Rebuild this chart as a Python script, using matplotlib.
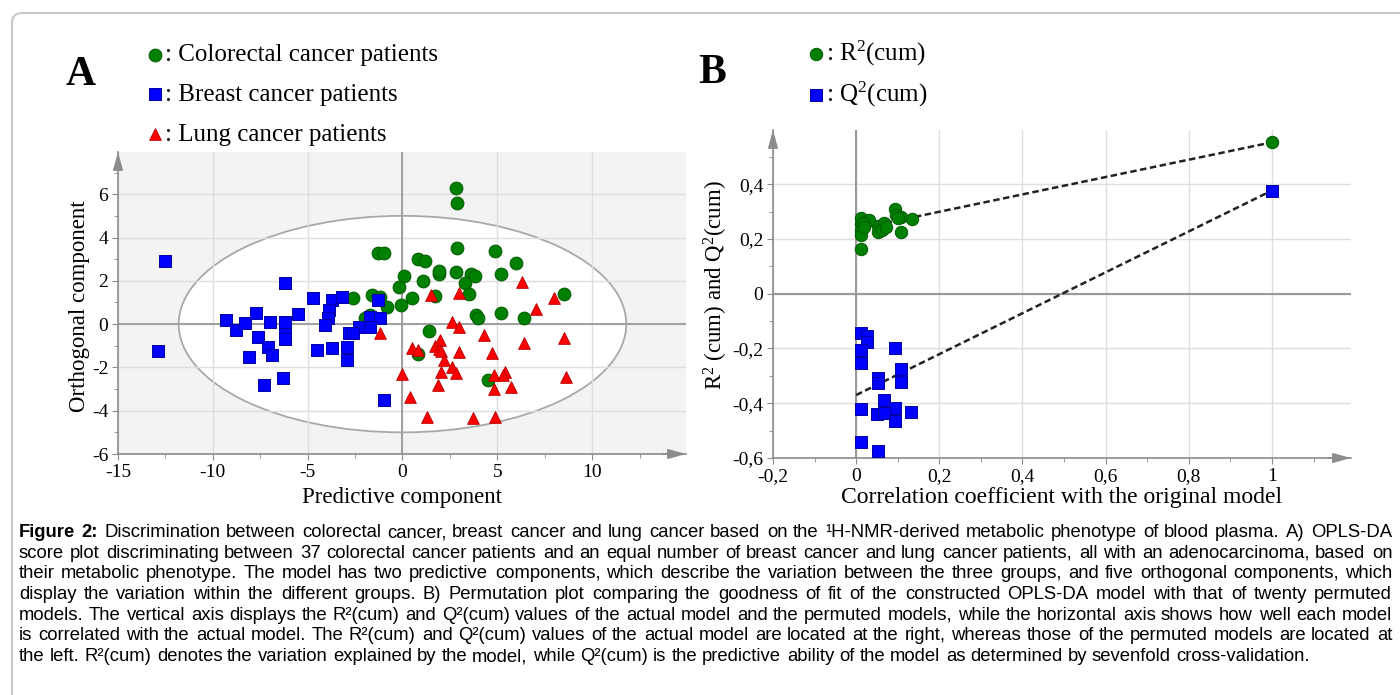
import matplotlib
matplotlib.use("Agg")
import matplotlib.pyplot as plt
from matplotlib.patches import Ellipse, FancyBboxPatch
from matplotlib.transforms import IdentityTransform
from matplotlib.ticker import MultipleLocator, FuncFormatter

plt.rcParams['font.family'] = 'Liberation Serif'
plt.rcParams['axes.unicode_minus'] = False

W, H = 1400, 695

# ---- panel A: OPLS-DA scores (predictive, orthogonal)
colorectal_pred = [2.8, 2.9, -1.3, -1.0, 2.9, 4.9, 6.0, 0.8, 1.2, 0.1,
                   1.9, 1.95, 2.8, 3.6, 3.8, 5.2, 1.1, 3.3, -0.2, 3.5,
                   8.5, 1.7, 0.5, -0.1, -0.8, -2.6, -1.6, -1.2, 5.2, -2.0,
                   -1.7, 3.9, 4.0, 6.4, 1.4, 0.8, 4.5]
colorectal_orth = [6.3, 5.6, 3.3, 3.3, 3.5, 3.4, 2.8, 3.0, 2.9, 2.2,
                   2.3, 2.45, 2.4, 2.3, 2.2, 2.3, 2.0, 1.9, 1.7, 1.4,
                   1.4, 1.3, 1.2, 0.9, 0.8, 1.2, 1.35, 1.25, 0.5, 0.3,
                   0.4, 0.4, 0.3, 0.3, -0.3, -1.4, -2.6]

breast_pred = [-12.5, -12.9, -6.2, -4.7, -3.7, -3.2, -9.3, -8.8, -8.3, -7.7,
               -7.0, -6.2, -5.5, -3.9, -3.95, -4.1, -7.6, -7.1, -6.9, -6.2,
               -6.2, -8.1, -7.3, -6.3, -4.5, -3.7, -2.9, -2.9, -2.8, -1.3,
               -1.7, -1.2, -2.3, -2.6, -1.7, -0.95]
breast_orth = [2.9, -1.25, 1.9, 1.2, 1.1, 1.25, 0.2, -0.25, 0.05, 0.5,
               0.1, 0.1, 0.45, 0.65, 0.3, -0.05, -0.6, -1.05, -1.45, -0.45,
               -0.7, -1.5, -2.8, -2.5, -1.2, -1.1, -1.05, -1.65, -0.4, 1.1,
               0.35, 0.3, -0.15, -0.4, -0.15, -3.5]

lung_pred = [6.3, 3.0, 1.5, 8.0, 7.05, 2.6, 3.0, -1.2, 4.3, 6.4,
             8.5, 0.5, 0.8, 1.7, 2.0, 1.9, 2.05, 3.0, 4.7, 2.2,
             2.6, 2.8, 2.05, -0.05, 1.85, 4.85, 5.4, 5.3, 4.85, 5.7,
             8.6, 0.4, 1.3, 3.7, 4.9]
lung_orth = [1.95, 1.45, 1.35, 1.2, 0.7, 0.1, -0.15, -0.4, -0.5, -0.85,
             -0.65, -1.1, -1.2, -1.0, -0.75, -1.15, -1.25, -1.3, -1.35, -1.65,
             -2.0, -2.25, -2.2, -2.3, -2.8, -2.35, -2.2, -2.35, -3.0, -2.9,
             -2.45, -3.35, -4.3, -4.35, -4.3]

# Hotelling T2 ellipse half-widths
t2_half_pred, t2_half_orth = 11.8, 5.0

# ---- panel B: permutation test (last value = original model)
r2_corr = [0.012, 0.012, 0.027, 0.012, 0.012, 0.012, 0.053, 0.053, 0.067, 0.094,
           0.096, 0.108, 0.108, 0.135, 0.031, 0.063, 0.017, 0.02, 0.072, 0.1, 1.0]
r2_cum = [0.165, 0.278, 0.267, 0.253, 0.234, 0.216, 0.249, 0.224, 0.26, 0.308,
          0.286, 0.281, 0.224, 0.274, 0.27, 0.234, 0.26, 0.245, 0.245, 0.275, 0.553]
q2_corr = [0.012, 0.027, 0.027, 0.012, 0.094, 0.012, 0.108, 0.108, 0.053, 0.053,
           0.067, 0.094, 0.094, 0.132, 0.012, 0.05, 0.067, 0.012, 0.053, 1.0]
q2_cum = [-0.143, -0.154, -0.175, -0.205, -0.199, -0.252, -0.275, -0.321, -0.309, -0.327,
          -0.388, -0.417, -0.465, -0.432, -0.422, -0.44, -0.436, -0.543, -0.574, 0.377]
r2_line_x, r2_line_y = [0, 1], [0.236, 0.553]
q2_line_x, q2_line_y = [0, 1], [-0.37, 0.377]

caption_lines = [
    "Figure 2: Discrimination between colorectal cancer, breast cancer and lung cancer based on the \u00b9H-NMR-derived metabolic phenotype of blood plasma. A) OPLS-DA",
    "score plot discriminating between 37 colorectal cancer patients and an equal number of breast cancer and lung cancer patients, all with an adenocarcinoma, based on",
    "their metabolic phenotype. The model has two predictive components, which describe the variation between the three groups, and five orthogonal components, which",
    "display the variation within the different groups. B) Permutation plot comparing the goodness of fit of the constructed OPLS-DA model with that of twenty permuted",
    "models. The vertical axis displays the R\u00b2(cum) and Q\u00b2(cum) values of the actual model and the permuted models, while the horizontal axis shows how well each model",
    "is correlated with the actual model. The R\u00b2(cum) and Q\u00b2(cum) values of the actual model are located at the right, whereas those of the permuted models are located at",
    "the left. R\u00b2(cum) denotes the variation explained by the model, while Q\u00b2(cum) is the predictive ability of the model as determined by sevenfold cross-validation.",
]

GREEN, BLUE, RED = '#008000', '#0000ff', '#ff0000'
AXC = '#8c8c8c'


def comma_fmt(v, pos):
    if abs(v - round(v)) < 1e-9:
        return str(int(round(v)))
    return f'{v:.1f}'.replace('.', ',')


def style_axes(ax):
    for s in ['top', 'right']:
        ax.spines[s].set_visible(False)
    for s in ['left', 'bottom']:
        ax.spines[s].set_color(AXC)
        ax.spines[s].set_linewidth(1.2)
    ax.tick_params(which='both', direction='out', colors=AXC, labelcolor='black',
                   labelsize=14, pad=3)
    ax.tick_params(which='major', length=4)
    ax.tick_params(which='minor', length=3)
    ax.grid(True, which='major', color='#dedede', lw=1)
    ax.set_axisbelow(True)
    arrow = dict(arrowstyle='-|>,head_length=0.9,head_width=0.25', color=AXC, lw=1.2,
                 mutation_scale=12, shrinkA=0, shrinkB=0)
    ax.annotate('', xy=(1.0, 0), xytext=(0.96, 0), xycoords='axes fraction', arrowprops=arrow)
    ax.annotate('', xy=(0, 1.0), xytext=(0, 0.95), xycoords='axes fraction', arrowprops=arrow)


fig = plt.figure(figsize=(14, 6.95), dpi=100, facecolor='white')

# outer frame
frame = FancyBboxPatch((12, -30), 1420, 695 - 13 + 30, boxstyle='round,pad=0,rounding_size=10',
                       transform=IdentityTransform(), fc='none', ec='#c8c8c8', lw=1.5)
fig.add_artist(frame)

# ---------------- panel A
axA = fig.add_axes([118 / W, (H - 454) / H, 568 / W, 302 / H])
axA.set_facecolor('#f3f3f3')
axA.set_xlim(-15, 14.95)
axA.set_ylim(-6, 7.95)
axA.xaxis.set_major_locator(MultipleLocator(5))
axA.xaxis.set_minor_locator(MultipleLocator(2.5))
axA.yaxis.set_major_locator(MultipleLocator(2))
axA.yaxis.set_minor_locator(MultipleLocator(1))
style_axes(axA)
axA.add_patch(Ellipse((0, 0), 2 * t2_half_pred, 2 * t2_half_orth, fc='white',
                      ec='#a8a8a8', lw=1.3, zorder=0.2))
axA.axhline(0, color='#9a9a9a', lw=1.3, zorder=1)
axA.axvline(0, color='#9a9a9a', lw=1.3, zorder=1)

sc_crc = axA.scatter(colorectal_pred, colorectal_orth, s=85, marker='o', c=GREEN,
                     edgecolors='#005a00', linewidths=0.7, zorder=3)
sc_brc = axA.scatter(breast_pred, breast_orth, s=70, marker='s', c=BLUE,
                     edgecolors='#0000a0', linewidths=0.7, zorder=3)
sc_lc = axA.scatter(lung_pred, lung_orth, s=70, marker='^', c=RED,
                    edgecolors='#c00000', linewidths=0.7, zorder=3)

axA.set_xlabel('Predictive component', fontsize=16.5)
axA.set_ylabel('Orthogonal component', fontsize=16.5)
axA.xaxis.set_label_coords(0.5, -(497 - 454) / 302)
axA.xaxis.label.set_verticalalignment('center')
axA.yaxis.set_label_coords((80 - 118) / 568, (454 - 306) / 302)
axA.yaxis.label.set_verticalalignment('center')

# ---------------- panel B
axB = fig.add_axes([773 / W, (H - 458) / H, 578 / W, 328 / H])
axB.set_xlim(-0.2, 1.19)
axB.set_ylim(-0.6, 0.598)
axB.xaxis.set_major_locator(MultipleLocator(0.2))
axB.xaxis.set_minor_locator(MultipleLocator(0.1))
axB.yaxis.set_major_locator(MultipleLocator(0.2))
axB.yaxis.set_minor_locator(MultipleLocator(0.1))
axB.xaxis.set_major_formatter(FuncFormatter(comma_fmt))
axB.yaxis.set_major_formatter(FuncFormatter(comma_fmt))
style_axes(axB)
axB.axhline(0, color='#9a9a9a', lw=1.5, zorder=1)
axB.axvline(0, color='#9a9a9a', lw=1.5, zorder=1)

axB.plot(r2_line_x, r2_line_y, color='#222222', lw=1.8, ls=(0, (2.6, 1.4)), zorder=2)
axB.plot(q2_line_x, q2_line_y, color='#222222', lw=1.8, ls=(0, (2.6, 1.4)), zorder=2)
sc_r2 = axB.scatter(r2_corr, r2_cum, s=80, marker='o', c=GREEN,
                    edgecolors='#005a00', linewidths=0.7, zorder=3)
sc_q2 = axB.scatter(q2_corr, q2_cum, s=70, marker='s', c=BLUE,
                    edgecolors='#0000a0', linewidths=0.7, zorder=3)

axB.set_xlabel('Correlation coefficient with the original model', fontsize=17)
axB.set_ylabel(r'R$\mathregular{^2}$ (cum) and Q$\mathregular{^2}$(cum)', fontsize=16.5)
axB.xaxis.set_label_coords(0.5, -(497 - 458) / 328)
axB.xaxis.label.set_verticalalignment('center')
axB.yaxis.set_label_coords((716 - 773) / 578, (458 - 285) / 328)
axB.yaxis.label.set_verticalalignment('center')

# ---------------- legends and panel letters
leg_kw = dict(loc='upper left', frameon=False, fontsize=18, handlelength=0.8,
              handletextpad=0.0, borderpad=0, borderaxespad=0, scatterpoints=1)
fig.legend([sc_crc, sc_brc, sc_lc],
           [': Colorectal cancer patients', ': Breast cancer patients', ': Lung cancer patients'],
           bbox_to_anchor=(145 / W, 1 - 44 / H), labelspacing=0.68, **leg_kw)
fig.legend([sc_r2, sc_q2],
           [r': R$\mathregular{^2}$(cum)', r': Q$\mathregular{^2}$(cum)'],
           bbox_to_anchor=(806 / W, 1 - 39 / H), labelspacing=0.45, **leg_kw)

fig.text(81 / W, 1 - 75 / H, 'A', fontsize=30, fontweight='bold', ha='center', va='center')
fig.text(712 / W, 1 - 73 / H, 'B', fontsize=30, fontweight='bold', ha='center', va='center')

# ---------------- caption, justified
cap_font = 'Liberation Sans'
cap_left, cap_right = 19, 1392
cap_last_right = 1318
cap_base0, cap_step = 537, 20.7
renderer = fig.canvas.get_renderer()


def measure(s, weight, size):
    t = fig.text(0, 0, s, family=cap_font, fontsize=size, fontweight=weight)
    w = t.get_window_extent(renderer).width
    t.remove()
    return w


# size chosen so that the unjustified last line ends where it does in the figure
base = 12.0
cap_size = base * (cap_last_right - cap_left) / measure(caption_lines[-1], 'normal', base)
space_w = measure('a a', 'normal', cap_size) - measure('aa', 'normal', cap_size)
for i, line in enumerate(caption_lines):
    words = line.split(' ')
    weights = ['bold' if (i == 0 and k < 2) else 'normal' for k in range(len(words))]
    widths = [measure(w, wt, cap_size) for w, wt in zip(words, weights)]
    if i < len(caption_lines) - 1:
        gap = (cap_right - cap_left - sum(widths)) / (len(words) - 1)
    else:
        gap = space_w
    x = cap_left
    y = round(cap_base0 + i * cap_step)
    for w, wt, wd in zip(words, weights, widths):
        fig.text(round(x) / W, 1 - y / H, w, family=cap_font, fontsize=cap_size,
                 fontweight=wt, ha='left', va='baseline')
        x += wd + gap

fig.savefig('out.png', dpi=100, facecolor='white')
